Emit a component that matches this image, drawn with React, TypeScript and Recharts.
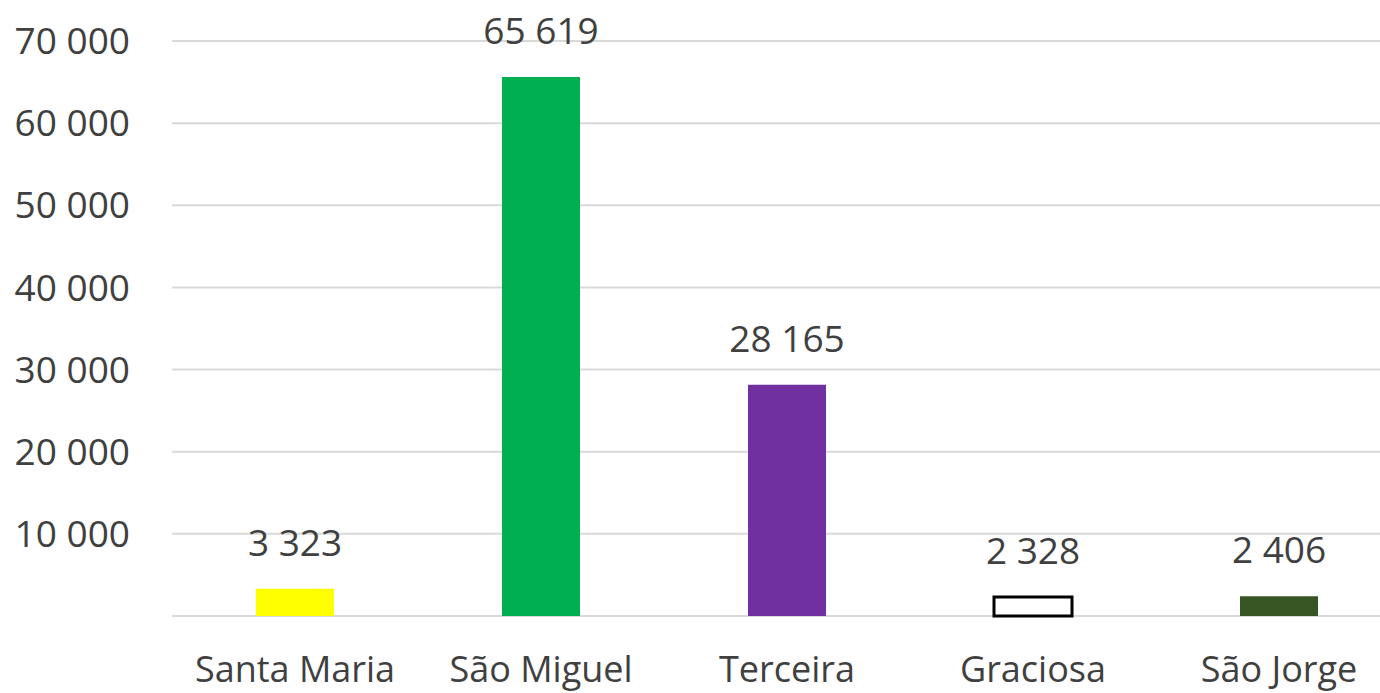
import React from "react";
import { BarChart, Bar, XAxis, YAxis, CartesianGrid, Cell, LabelList } from "recharts";

const islands = ["Santa Maria", "São Miguel", "Terceira", "Graciosa", "São Jorge"];
const values = [3323, 65619, 28165, 2328, 2406];
const fills = ["#ffff00", "#00b050", "#7030a0", "#ffffff", "#375623"];
const strokes = ["none", "none", "none", "#000000", "none"];
const yTicks = [0, 10000, 20000, 30000, 40000, 50000, 60000, 70000];

const data = islands.map((name, i) => ({ name, value: values[i] }));

// thousands separated by a space, like the source
function fmt(v: number) {
  return String(v).replace(/\B(?=(\d{3})+(?!\d))/g, " ");
}

const textColor = "#404040";
const font = "'Open Sans', sans-serif";

export default function App() {
  return (
    <div
      style={{
        position: "absolute",
        left: 0,
        top: 0,
        width: 1380,
        height: 693,
        overflow: "hidden",
        background: "#fff",
      }}
    >
      <BarChart
        width={1402}
        height={693}
        data={data}
        margin={{ top: 41, right: 0, left: 0, bottom: 0 }}
        barSize={78}
      >
        <CartesianGrid vertical={false} stroke="#d9d9d9" strokeWidth={2} />
        <XAxis
          dataKey="name"
          height={77}
          axisLine={false}
          tickLine={false}
          tickSize={0}
          tickMargin={40}
          interval={0}
          tick={{ fill: textColor, fontSize: 36, fontFamily: font }}
        />
        <YAxis
          width={172}
          domain={[0, 70000]}
          ticks={yTicks}
          axisLine={false}
          tickLine={false}
          tickSize={0}
          tickMargin={42}
          tickFormatter={(v: number) => (v === 0 ? "" : fmt(v))}
          tick={{ fill: textColor, fontSize: 37, fontFamily: font }}
        />
        <Bar dataKey="value" isAnimationActive={false}>
          {data.map((d, i) => (
            <Cell
              key={d.name}
              fill={fills[i]}
              stroke={strokes[i]}
              strokeWidth={strokes[i] === "none" ? 0 : 3}
            />
          ))}
          <LabelList
            dataKey="value"
            position="top"
            offset={33}
            formatter={(v: any) => fmt(Number(v))}
            style={{ fill: textColor, fontSize: 37, fontFamily: font }}
          />
        </Bar>
      </BarChart>
    </div>
  );
}
